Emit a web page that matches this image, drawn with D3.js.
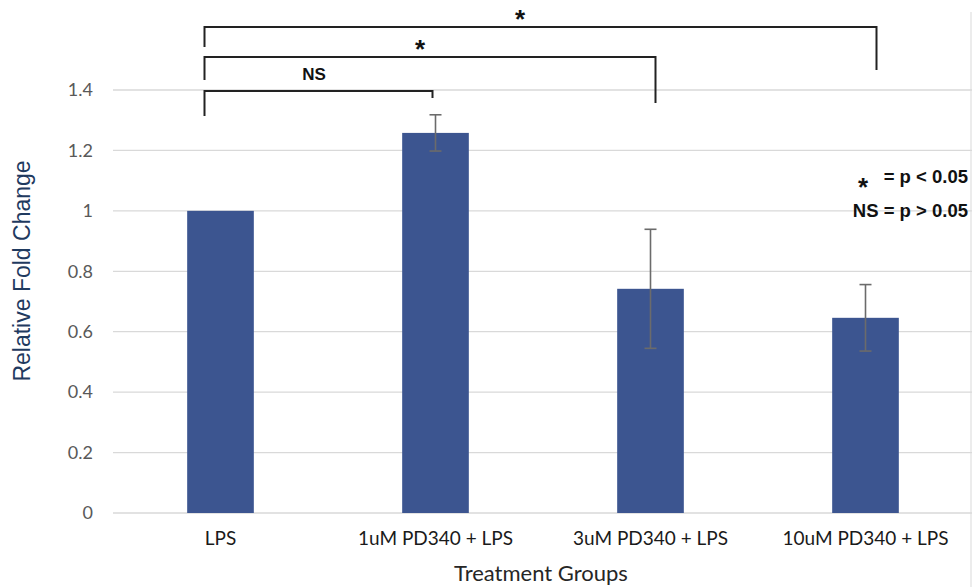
<!DOCTYPE html>
<html>
<head>
<meta charset="utf-8">
<script src="https://cdn.jsdelivr.net/npm/d3@7"></script>
<style>
  body { margin: 0; background: #fff; }
  svg { display: block; }
</style>
</head>
<body>
<svg id="chart" width="972" height="587"></svg>
<script>
var groups = ["LPS", "1uM PD340 + LPS", "3uM PD340 + LPS", "10uM PD340 + LPS"];
var foldChange = [1.0, 1.258, 0.742, 0.646];
var errors = [0.0, 0.06, 0.197, 0.11];
var yTicks = [0, 0.2, 0.4, 0.6, 0.8, 1, 1.2, 1.4];
// comparisons: [from group, to group, label]
var comparisons = [
  ["LPS", "1uM PD340 + LPS", "NS"],
  ["LPS", "3uM PD340 + LPS", "*"],
  ["LPS", "10uM PD340 + LPS", "*"]
];

var w = 972, h = 587;
var svg = d3.select("#chart");
var plotLeft = 113, plotRight = 973, plotTop = 90, plotBottom = 513;

var x = d3.scaleBand().domain(groups).range([plotLeft, plotRight]).paddingInner(0.69).paddingOuter(0.345);
var y = d3.scaleLinear().domain([0, 1.4]).range([plotBottom, plotTop]);

var data = groups.map((g, i) => ({ g: g, v: foldChange[i], e: errors[i] }));

// gridlines
svg.append("g")
  .selectAll("line")
  .data(yTicks)
  .enter()
  .append("line")
  .attr("x1", plotLeft)
  .attr("x2", w)
  .attr("y1", d => y(d))
  .attr("y2", d => y(d))
  .attr("stroke", "#d9d9d9")
  .attr("stroke-width", 1.3);

// right border
svg.append("line")
  .attr("x1", 971).attr("x2", 971)
  .attr("y1", 12).attr("y2", h)
  .attr("stroke", "#d9d9d9")
  .attr("stroke-width", 1);

// y axis labels
var yAxis = d3.axisLeft(y).tickValues(yTicks).tickSize(0).tickPadding(0)
  .tickFormat(d => d === 0 ? "0" : d3.format("")(d));
var ya = svg.append("g").attr("transform", "translate(93,0)").call(yAxis);
ya.select(".domain").remove();
ya.selectAll("text")
  .attr("font-family", "Lato, sans-serif")
  .attr("font-size", 18)
  .attr("fill", "#595959");

// bars
svg.append("g")
  .selectAll("rect")
  .data(data)
  .enter()
  .append("rect")
  .attr("x", d => x(d.g))
  .attr("y", d => y(d.v))
  .attr("width", x.bandwidth())
  .attr("height", d => y(0) - y(d.v))
  .attr("fill", "#3c5590");

// error bars
var eb = svg.append("g")
  .selectAll("g")
  .data(data.filter(d => d.e > 0))
  .enter()
  .append("g")
  .attr("stroke", "#6b6b6b")
  .attr("stroke-width", 1.6);
eb.append("line")
  .attr("x1", d => x(d.g) + x.bandwidth() / 2)
  .attr("x2", d => x(d.g) + x.bandwidth() / 2)
  .attr("y1", d => y(d.v + d.e))
  .attr("y2", d => y(d.v - d.e));
[1, -1].forEach(function(s) {
  eb.append("line")
    .attr("x1", d => x(d.g) + x.bandwidth() / 2 - 6)
    .attr("x2", d => x(d.g) + x.bandwidth() / 2 + 6)
    .attr("y1", d => y(d.v + s * d.e))
    .attr("y2", d => y(d.v + s * d.e));
});

// x labels
var xAxis = d3.axisBottom(x).tickSize(0).tickPadding(0);
var xa = svg.append("g").attr("transform", "translate(0,531)").call(xAxis);
xa.select(".domain").remove();
xa.selectAll("text")
  .attr("font-family", "Lato, sans-serif")
  .attr("font-size", 19)
  .attr("fill", "#1a1a1a");

// axis titles
svg.append("text")
  .attr("x", 541)
  .attr("y", 581)
  .attr("text-anchor", "middle")
  .attr("font-family", "Lato, sans-serif")
  .attr("font-size", 22)
  .attr("fill", "#262626")
  .text("Treatment Groups");

svg.append("text")
  .attr("transform", "translate(30,271) rotate(-90)")
  .attr("text-anchor", "middle")
  .attr("font-family", "'Liberation Sans', Arial, sans-serif")
  .attr("font-size", 23)
  .attr("fill", "#1f3a5f")
  .text("Relative Fold Change");

// significance brackets
var bracketY = [91, 57, 27];
var leftLeg = [25, 23, 20];
var rightLeg = [7, 46, 43];
var rightShift = [-3, 5, 11];
var labelX = [314, 420, 520];
var br = svg.append("g");
comparisons.forEach(function(c, i) {
  var x1 = x(c[0]) + x.bandwidth() / 2 - 16;
  var x2 = x(c[1]) + x.bandwidth() / 2 + rightShift[i];
  var yy = bracketY[i];
  br.append("path")
    .attr("d", `M${x1},${yy + leftLeg[i]}V${yy}H${x2}V${yy + rightLeg[i]}`)
    .attr("fill", "none")
    .attr("stroke", "#222")
    .attr("stroke-width", 2);
  br.append("text")
    .attr("x", labelX[i])
    .attr("y", c[2] === "*" ? yy + 1 : yy - 11)
    .attr("text-anchor", "middle")
    .attr("font-family", "'Liberation Sans', Arial, sans-serif")
    .attr("font-weight", "bold")
    .attr("font-size", c[2] === "*" ? 26 : 17)
    .attr("fill", "#111")
    .text(c[2]);
});

// legend
var lg = svg.append("g")
  .attr("font-family", "'Liberation Sans', Arial, sans-serif")
  .attr("font-weight", "bold")
  .attr("fill", "#111");
lg.append("text").attr("x", 968).attr("y", 183).attr("text-anchor", "end")
  .attr("font-size", 18.5).text("= p < 0.05");
lg.append("text").attr("x", 863).attr("y", 196).attr("text-anchor", "middle")
  .attr("font-size", 26).text("*");
lg.append("text").attr("x", 968).attr("y", 217).attr("text-anchor", "end")
  .attr("font-size", 18.5).text("NS = p > 0.05");
</script>
</body>
</html>
